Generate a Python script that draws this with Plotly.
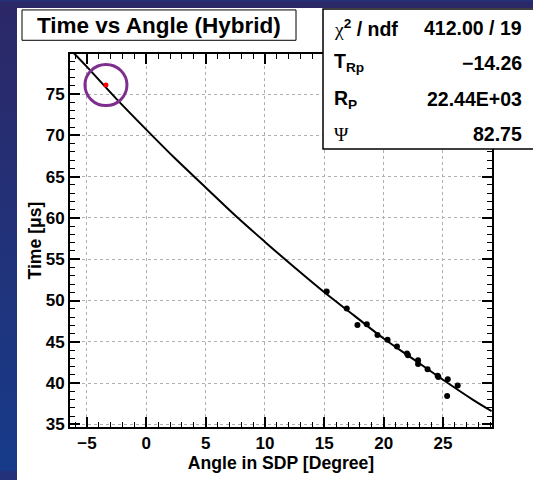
import base64
import plotly.graph_objects as go

# ---- data ----
angle = [15.2, 16.89, 17.79, 18.58, 19.48, 20.33, 21.12, 21.97, 22.05, 22.9, 22.9,
         23.7, 24.55, 24.61, 25.4, 25.35, 26.24]
time_us = [51.09, 49.03, 47.02, 47.14, 45.83, 45.24, 44.44, 43.58, 43.37, 42.78, 42.31,
           41.68, 40.88, 40.73, 40.46, 38.44, 39.70]

fit_x = [-6.4, -5, -2.5, 0, 2.5, 5, 7.5, 10, 12.5, 15, 17.5, 20, 22.5, 25, 27.5, 29.1]
fit_y = [80.4, 78.3, 74.4, 70.7, 67.1, 63.7, 60.3, 57.1, 54.0, 51.0, 48.2, 45.4, 42.9, 40.4, 38.0, 36.6]

sel_x = [-3.4]
sel_y = [76.1]

x_ticks = [-5, 0, 5, 10, 15, 20, 25]
y_ticks = [35, 40, 45, 50, 55, 60, 65, 70, 75]

SERIF = "font-family:'Liberation Serif', 'DejaVu Serif', serif;font-weight:normal"
stats_labels = ["<span style=\"" + SERIF + "\">χ</span><sup>2</sup> / ndf",
                "T<sub>Rp</sub>", "R<sub>P</sub>",
                "<span style=\"" + SERIF + "\">Ψ</span>"]
stats_values = ["412.00 / 19", "−14.26", "22.44E+03", "82.75"]

# ---- layout geometry (pixels) ----
FW, FH = 533, 480
L, R, T, B = 70, 41, 54, 45
W, H = FW - L - R, FH - T - B


def px(x):
    return (x - L) / W


def py(y):
    return 1 - (y - T) / H


FONT = "Liberation Sans, Arial, Helvetica, sans-serif"

fig = go.Figure()
fig.add_trace(go.Scatter(x=fit_x, y=fit_y, mode="lines", line=dict(color="black", width=2, shape="spline"),
                         hoverinfo="skip", showlegend=False))
fig.add_trace(go.Scatter(x=angle, y=time_us, mode="markers", marker=dict(color="black", size=6),
                         showlegend=False))
fig.add_trace(go.Scatter(x=sel_x, y=sel_y, mode="markers", marker=dict(color="red", size=5),
                         showlegend=False))

axis_common = dict(
    showline=True, linecolor="black", linewidth=2, mirror="allticks",
    ticks="inside", ticklen=10, tickwidth=1.5, tickcolor="black",
    showgrid=True, gridcolor="#b0b0b0", griddash="dot", gridwidth=1,
    zeroline=False,
    tickfont=dict(family=FONT, size=17, color="black", weight="bold"),
    minor=dict(ticks="inside", ticklen=5, dtick=1, tickwidth=1.2, tickcolor="black", showgrid=False),
)

fig.update_xaxes(range=[-6.43, 29.13], tickvals=x_ticks, **axis_common,
                 title=dict(text="Angle in SDP [Degree]", standoff=2,
                            font=dict(family=FONT, size=17.6, color="black", weight="bold")))
fig.update_yaxes(range=[34.68, 79.86], tickvals=y_ticks, **axis_common,
                 title=dict(text="Time [μs]", standoff=0,
                            font=dict(family=FONT, size=17.6, color="black", weight="bold")))

svg = ('<svg xmlns="http://www.w3.org/2000/svg" width="533" height="480">'
       '<defs><linearGradient id="g" x1="0" y1="0" x2="0" y2="1">'
       '<stop offset="0" stop-color="#2c2867"/><stop offset="1" stop-color="#173b8a"/>'
       '</linearGradient></defs><rect width="533" height="480" fill="url(#g)"/></svg>')
src = "data:image/svg+xml;base64," + base64.b64encode(svg.encode()).decode()

shapes = [
    # white canvas
    dict(type="rect", xref="paper", yref="paper", x0=px(17), x1=px(540), y0=py(7), y1=py(490),
         fillcolor="white", line=dict(width=0), layer="below"),
    # title box
    dict(type="rect", xref="paper", yref="paper", x0=px(22), x1=px(296), y0=py(9), y1=py(40),
         fillcolor="white", line=dict(color="black", width=1), layer="above"),
    # stats box
    dict(type="rect", xref="paper", yref="paper", x0=px(323), x1=px(540), y0=py(8), y1=py(151),
         fillcolor="white", line=dict(color="black", width=1.5), layer="above"),
    # selection circle
    dict(type="circle", xref="x", yref="y", x0=sel_x[0] - 1.77, x1=sel_x[0] + 1.77,
         y0=sel_y[0] - 2.49, y1=sel_y[0] + 2.49, line=dict(color="#7e2f8e", width=3), layer="above"),
]

annotations = [
    dict(text="<b>Time vs Angle (Hybrid)</b>", xref="paper", yref="paper", x=px(159), y=py(24.5),
         xanchor="center", yanchor="middle", showarrow=False,
         font=dict(family=FONT, size=22.5, color="black")),
]
rows_y = [27, 63, 100, 136]
for lab, val, yy in zip(stats_labels, stats_values, rows_y):
    annotations.append(dict(text="<b>" + lab + "</b>", xref="paper", yref="paper", x=px(332), y=py(yy),
                            xanchor="left", yanchor="middle", showarrow=False,
                            font=dict(family=FONT, size=19.5, color="black")))
    annotations.append(dict(text="<b>" + val + "</b>", xref="paper", yref="paper", x=px(524), y=py(yy),
                            xanchor="right", yanchor="middle", showarrow=False,
                            font=dict(family=FONT, size=19.5, color="black")))

fig.update_layout(
    width=FW, height=FH, autosize=False,
    margin=dict(l=L, r=R, t=T, b=B),
    paper_bgcolor="#22317a", plot_bgcolor="rgba(0,0,0,0)",
    images=[dict(source=src, xref="paper", yref="paper", x=px(0), y=py(0),
                 sizex=FW / W, sizey=FH / H, sizing="stretch", xanchor="left", yanchor="top",
                 layer="below")],
    shapes=shapes, annotations=annotations,
    showlegend=False,
)

fig.write_html("out.html")
